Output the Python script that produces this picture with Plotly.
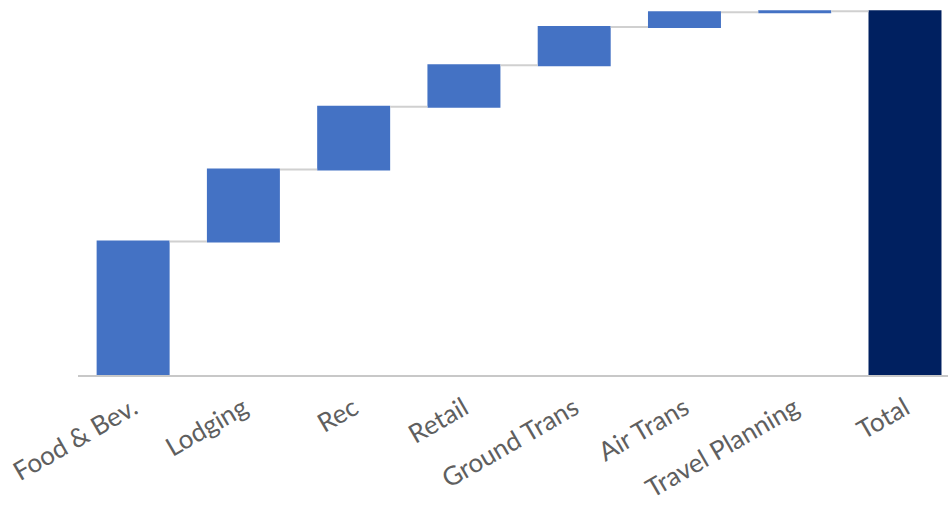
import plotly.graph_objects as go

categories = ["Food & Bev.", "Lodging", "Rec", "Retail", "Ground Trans", "Air Trans", "Travel Planning", "Total"]
values = [1335, 722, 628, 415, 383, 147, 10, 0]
measures = ["relative"] * 7 + ["total"]

fig = go.Figure(go.Waterfall(
    x=categories,
    y=values,
    measure=measures,
    increasing=dict(marker=dict(color="#4472C4")),
    decreasing=dict(marker=dict(color="#4472C4")),
    totals=dict(marker=dict(color="#002060")),
    connector=dict(line=dict(color="#d0d0d0", width=2)),
    showlegend=False,
    hoverinfo="x+y",
))

fig.update_layout(
    width=948, height=506,
    margin=dict(l=78, r=0, t=0, b=131),
    paper_bgcolor="white", plot_bgcolor="white",
    waterfallgap=0.338,
    font=dict(family="Lato", color="#595959"),
    xaxis=dict(
        range=[-0.5, 7.39],
        tickangle=-30,
        tickfont=dict(size=26, color="#5f5f5f", family="Lato"),
        showline=True, linecolor="#c8c8c8", linewidth=2,
        showgrid=False, zeroline=False, ticks="",
        ticklabelstandoff=6,
    ),
    yaxis=dict(
        range=[0, 3752],
        visible=False, showgrid=False, zeroline=False,
    ),
)

fig.write_html("out.html")
